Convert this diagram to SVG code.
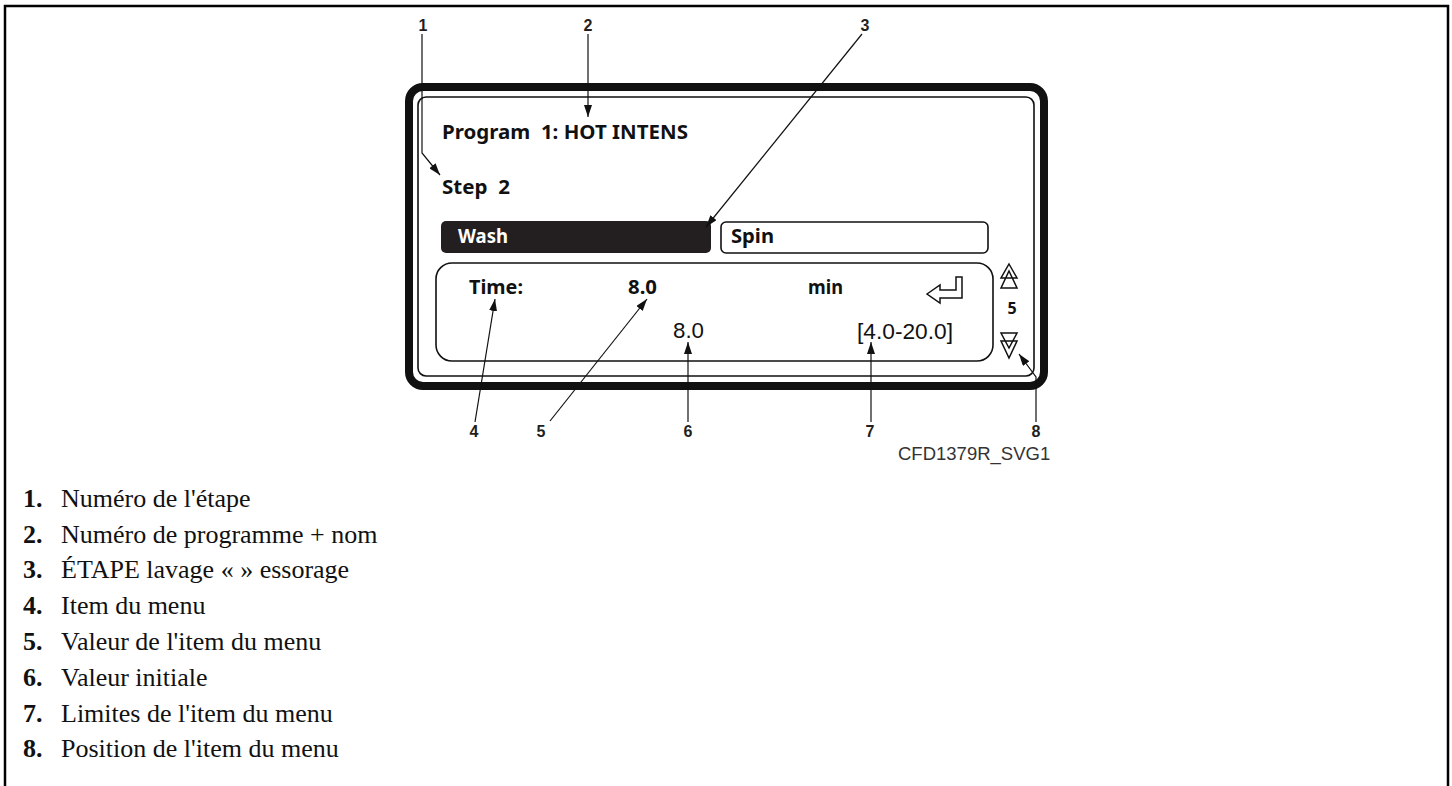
<svg xmlns="http://www.w3.org/2000/svg" width="1452" height="786" viewBox="0 0 1452 786">
<defs>
<style>
.disp{font-family:"Noto Sans","Open Sans",sans-serif;font-weight:bold;font-size:20px;fill:#111}
.val{font-family:"Liberation Sans",Arial,sans-serif;font-size:22px;fill:#111}
.lbl{font-family:"Liberation Sans",Arial,sans-serif;font-weight:bold;font-size:16px;fill:#231f20;text-anchor:middle}
.leg{font-family:"Liberation Serif","Times New Roman",serif;font-size:26px;fill:#111}
.legn{font-weight:bold}
.ldr{fill:none;stroke:#111;stroke-width:1.2;marker-end:url(#ah)}
.thin{fill:none;stroke:#111;stroke-width:1.6}
</style>
<marker id="ah" markerUnits="userSpaceOnUse" markerWidth="12" markerHeight="8" refX="12" refY="4" orient="auto">
<path d="M0,0 L12,4 L0,8 z" fill="#111"/>
</marker>
</defs>
<rect x="0" y="0" width="1452" height="786" fill="#fff"/>
<rect id="frame" x="5" y="6" width="1443" height="820" fill="none" stroke="#000" stroke-width="2.5"/>

<g id="display">
<rect x="409" y="87" width="635" height="299" rx="14" fill="none" stroke="#111" stroke-width="8"/>
<rect x="418" y="97" width="616" height="279" rx="8" class="thin"/>
</g>

<g id="program">
<text class="disp" x="442" y="139" textLength="246" lengthAdjust="spacingAndGlyphs" xml:space="preserve">Program  1: HOT INTENS</text>
</g>
<g id="step">
<text class="disp" x="442" y="194" textLength="68" lengthAdjust="spacingAndGlyphs" xml:space="preserve">Step  2</text>
</g>
<g id="wash">
<rect x="441" y="221" width="270" height="32" rx="5" fill="#231f20"/>
<text class="disp" x="458" y="243" fill="#fff" style="fill:#fff" textLength="50" lengthAdjust="spacingAndGlyphs">Wash</text>
</g>
<g id="spin">
<rect x="721" y="222" width="267" height="31" rx="5" fill="#fff" stroke="#111" stroke-width="1.6"/>
<text class="disp" x="731" y="243" textLength="43" lengthAdjust="spacingAndGlyphs">Spin</text>
</g>
<g id="valuebox">
<rect x="436" y="263" width="557" height="98" rx="16" class="thin"/>
<text class="disp" x="469" y="294" textLength="54" lengthAdjust="spacingAndGlyphs">Time:</text>
<text class="disp" x="628" y="294" textLength="29" lengthAdjust="spacingAndGlyphs">8.0</text>
<text class="disp" x="808" y="294" textLength="35" lengthAdjust="spacingAndGlyphs">min</text>
<path d="M927,294 L940,285 L940,290 L956,290 L956,277 L962,277 L962,298 L940,298 L940,303 Z" fill="#fff" stroke="#111" stroke-width="1.5" stroke-linejoin="miter"/>
<text class="val" x="673" y="338" textLength="31" lengthAdjust="spacingAndGlyphs">8.0</text>
<text class="val" x="857" y="339" textLength="96" lengthAdjust="spacingAndGlyphs">[4.0-20.0]</text>
</g>
<g id="position">
<path d="M1009,264 L1017,278 L1001,278 Z M1009,271 L1017,288 L1001,288 Z" fill="none" stroke="#111" stroke-width="1.5" stroke-linejoin="miter"/>
<text class="disp" x="1012" y="314" style="font-size:16px" text-anchor="middle">5</text>
<path d="M1001,333 L1017,333 L1009,348 Z M1001,341 L1017,341 L1009,358 Z" fill="none" stroke="#111" stroke-width="1.5" stroke-linejoin="miter"/>
</g>

<g id="connectors">
<path class="ldr" d="M422,34 V153 L440,175"/>
<path class="ldr" d="M588,34 V117"/>
<path class="ldr" d="M862,34 L706,227"/>
<path class="ldr" d="M475,422 L495,299"/>
<path class="ldr" d="M550,421 L647,299"/>
<path class="ldr" d="M688,422 V342"/>
<path class="ldr" d="M871,422 V342"/>
<path class="ldr" d="M1036,422 V377 L1019,354"/>
</g>

<g id="labels">
<text class="lbl" x="423" y="31">1</text>
<text class="lbl" x="588" y="31">2</text>
<text class="lbl" x="865" y="31">3</text>
<text class="lbl" x="474" y="437">4</text>
<text class="lbl" x="541" y="437">5</text>
<text class="lbl" x="688" y="437">6</text>
<text class="lbl" x="870" y="437">7</text>
<text class="lbl" x="1036" y="437">8</text>
<text x="898" y="460" style="font-family:'Liberation Sans',Arial,sans-serif;font-size:18.5px;fill:#333">CFD1379R_SVG1</text>
</g>

<g id="legend" class="leg">
<text x="23" y="507"><tspan class="legn">1.</tspan><tspan x="61">Numéro de l'étape</tspan></text>
<text x="23" y="542.5"><tspan class="legn">2.</tspan><tspan x="61">Numéro de programme + nom</tspan></text>
<text x="23" y="578"><tspan class="legn">3.</tspan><tspan x="61">ÉTAPE lavage « » essorage</tspan></text>
<text x="23" y="614"><tspan class="legn">4.</tspan><tspan x="61">Item du menu</tspan></text>
<text x="23" y="650"><tspan class="legn">5.</tspan><tspan x="61">Valeur de l'item du menu</tspan></text>
<text x="23" y="686"><tspan class="legn">6.</tspan><tspan x="61">Valeur initiale</tspan></text>
<text x="23" y="722"><tspan class="legn">7.</tspan><tspan x="61">Limites de l'item du menu</tspan></text>
<text x="23" y="757"><tspan class="legn">8.</tspan><tspan x="61">Position de l'item du menu</tspan></text>
</g>
</svg>
